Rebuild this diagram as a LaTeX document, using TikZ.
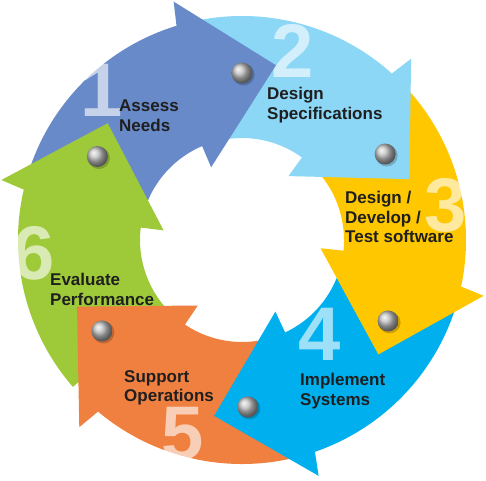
\documentclass[tikz,border=0pt]{standalone}
\usepackage{fontspec}
\setmainfont{Liberation Sans}
\definecolor{assess}{RGB}{104,138,201}
\definecolor{spec}{RGB}{140,214,246}
\definecolor{develop}{RGB}{254,199,0}
\definecolor{implement}{RGB}{0,175,238}
\definecolor{support}{RGB}{240,128,64}
\definecolor{evaluate}{RGB}{158,202,58}
\begin{document}
\begin{tikzpicture}[x=1pt,y=1pt,
    stage/.style={font=\bfseries\fontsize{17}{19.5}\selectfont,text=black!88,align=left,anchor=north west,inner sep=0pt},
    digit/.style={font=\bfseries\fontsize{76}{76}\selectfont,text=white,text opacity=0.62,inner sep=0pt}]
  \useasboundingbox (0,0) rectangle (486,480);
  \begin{scope}[shift={(242,240)}]
    % ring parts, then the heads on top
    \foreach \t/\c in {79/assess,20/spec,-40/develop,-99/implement,-158/support,139/evaluate}{
      \fill[\c] (\t+82:224pt) arc[start angle=\t+82,end angle=\t+28,radius=224pt]
        -- (\t+28:102pt) arc[start angle=\t+28,end angle=\t+82,radius=102pt] -- cycle;
    }
    \foreach \t/\c in {79/assess,20/spec,-40/develop,-99/implement,-158/support,139/evaluate}{
      \fill[\c] (\t+28:224pt) -- (\t+27:248pt) -- (\t:178pt) -- (\t+34:79pt) -- (\t+34:103pt) -- cycle;
    }
    \foreach \t in {79,20,-40,-99,-158,139}{
      \fill[black,opacity=0.2] (\t+11:167pt) ++(1.5,-1.5) circle[radius=11pt];
      \shade[ball color=gray!50] (\t+11:167pt) circle[radius=10.5pt];
    }
  \end{scope}

  \node[digit](D1) at(102,390) {1};
  \node[digit](D2) at(293,429) {2};
  \node[digit](D3) at(446,275) {3};
  \node[digit](D4) at(320,146) {4};
  \node[digit](D5) at(183,46) {5};
  \node[digit](D6) at(34,227) {6};

  \node[stage](Assess)    at(119,380) {Assess\\Needs};
  \node[stage](Spec)      at(267,393) {Design\\Specifications};
  \node[stage](Develop)   at(345,289) {Design /\\Develop /\\Test software};
  \node[stage](Implement) at(300,107) {Implement\\Systems};
  \node[stage](Support)   at(124,110) {Support\\Operations};
  \node[stage](Evaluate)  at(50,207)  {Evaluate\\Performance};
\end{tikzpicture}
\end{document}
